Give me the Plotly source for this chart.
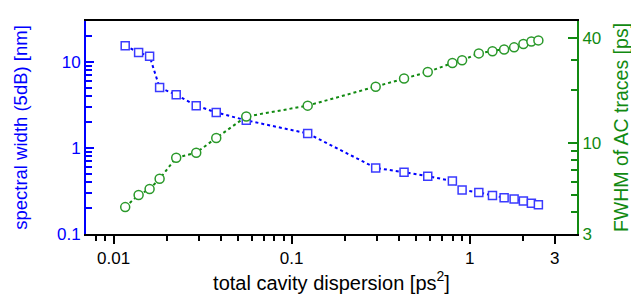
import plotly.graph_objects as go
import math

# Data
dispersion = [0.01162, 0.01382, 0.01593, 0.01813, 0.02247, 0.02911, 0.03771, 0.05559,
              0.1230, 0.2963, 0.4275, 0.5808, 0.7987, 0.9055, 1.124, 1.341, 1.559,
              1.774, 2.0, 2.218, 2.428]
spectral_width = [15.5, 12.9, 11.7, 5.04, 4.16, 3.11, 2.59, 2.10, 1.476, 0.587, 0.523,
                  0.471, 0.413, 0.3255, 0.304, 0.281, 0.264, 0.255, 0.242, 0.2275, 0.219]
fwhm_ac = [4.28, 5.02, 5.43, 6.22, 8.22, 8.78, 10.67, 14.15, 16.35, 21.0, 23.4, 25.5,
           28.7, 29.8, 32.6, 33.5, 34.3, 35.3, 36.9, 38.1, 38.7]

x_ticks = [0.01, 0.1, 1, 3]
x_ticktext = ["0.01", "0.1", "1", "3"]
x_minor = [0.008, 0.009, 0.02, 0.03, 0.04, 0.05, 0.06, 0.07, 0.08, 0.09,
           0.2, 0.3, 0.4, 0.5, 0.6, 0.7, 0.8, 0.9, 2]
y1_ticks = [0.1, 1, 10]
y1_ticktext = ["0.1", "1", "10"]
y1_minor = [0.2, 0.3, 0.4, 0.5, 0.6, 0.7, 0.8, 0.9, 2, 3, 4, 5, 6, 7, 8, 9, 20]
y2_ticks = [3, 10, 40]
y2_ticktext = ["3", "10", "40"]
y2_minor = [4, 5, 6, 7, 8, 9, 20, 30]

BLUE = "#0000ff"
GREEN = "#118a11"
FONT = "Arial, Liberation Sans, sans-serif"
TICK_SIZE = 17

fig = go.Figure()
fig.add_trace(go.Scatter(
    x=dispersion, y=spectral_width, mode="lines+markers", yaxis="y",
    line=dict(color=BLUE, width=2, dash="dot"),
    marker=dict(symbol="square", size=8, color="white",
                line=dict(color="#3a3aff", width=1.5)),
    showlegend=False))
fig.add_trace(go.Scatter(
    x=dispersion, y=fwhm_ac, mode="lines+markers", yaxis="y2",
    line=dict(color=GREEN, width=2, dash="dot"),
    marker=dict(symbol="circle", size=9, color="white",
                line=dict(color="#2a992a", width=1.5)),
    showlegend=False))

fig.update_layout(
    width=639, height=294,
    margin=dict(l=78, r=70, t=11, b=68),
    paper_bgcolor="white", plot_bgcolor="white",
    font=dict(family=FONT, size=TICK_SIZE, color="black"),
    xaxis=dict(
        type="log", range=[math.log10(0.007), math.log10(4)],
        tickmode="array", tickvals=x_ticks, ticktext=x_ticktext,
        ticks="outside", ticklen=8, tickwidth=2, tickcolor="black",
        minor=dict(tickmode="array", tickvals=x_minor, ticks="outside",
                   ticklen=5, tickwidth=2, tickcolor="black", showgrid=False),
        showline=True, linecolor="black", linewidth=2, mirror=True,
        showgrid=False, zeroline=False,
        tickfont=dict(size=TICK_SIZE, color="black"),
        title=dict(text="total cavity dispersion [ps<sup>2</sup>]",
                   font=dict(size=20, color="black"), standoff=3),
    ),
    yaxis=dict(
        type="log", range=[-1, math.log10(30)],
        tickmode="array", tickvals=y1_ticks, ticktext=y1_ticktext,
        ticks="inside", ticklen=8, tickwidth=2, tickcolor=BLUE,
        minor=dict(tickmode="array", tickvals=y1_minor, ticks="inside",
                   ticklen=6, tickwidth=2, tickcolor=BLUE, showgrid=False),
        showline=True, linecolor=BLUE, linewidth=2,
        showgrid=False, zeroline=False,
        tickfont=dict(size=TICK_SIZE, color=BLUE),
        title=dict(text="spectral width (5dB) [nm]",
                   font=dict(size=18.5, color=BLUE), standoff=24),
    ),
    yaxis2=dict(
        type="log", range=[math.log10(3), math.log10(50)],
        overlaying="y", side="right", anchor="x",
        tickmode="array", tickvals=y2_ticks, ticktext=y2_ticktext,
        ticks="inside", ticklen=9, tickwidth=2, tickcolor=GREEN,
        minor=dict(tickmode="array", tickvals=y2_minor, ticks="inside",
                   ticklen=6, tickwidth=2, tickcolor=GREEN, showgrid=False),
        showline=True, linecolor=GREEN, linewidth=2,
        showgrid=False, zeroline=False,
        tickfont=dict(size=TICK_SIZE, color=GREEN),
        title=dict(text="FWHM of AC traces [ps]",
                   font=dict(size=19.5, color=GREEN), standoff=14),
    ),
)

fig.write_html("out.html")
